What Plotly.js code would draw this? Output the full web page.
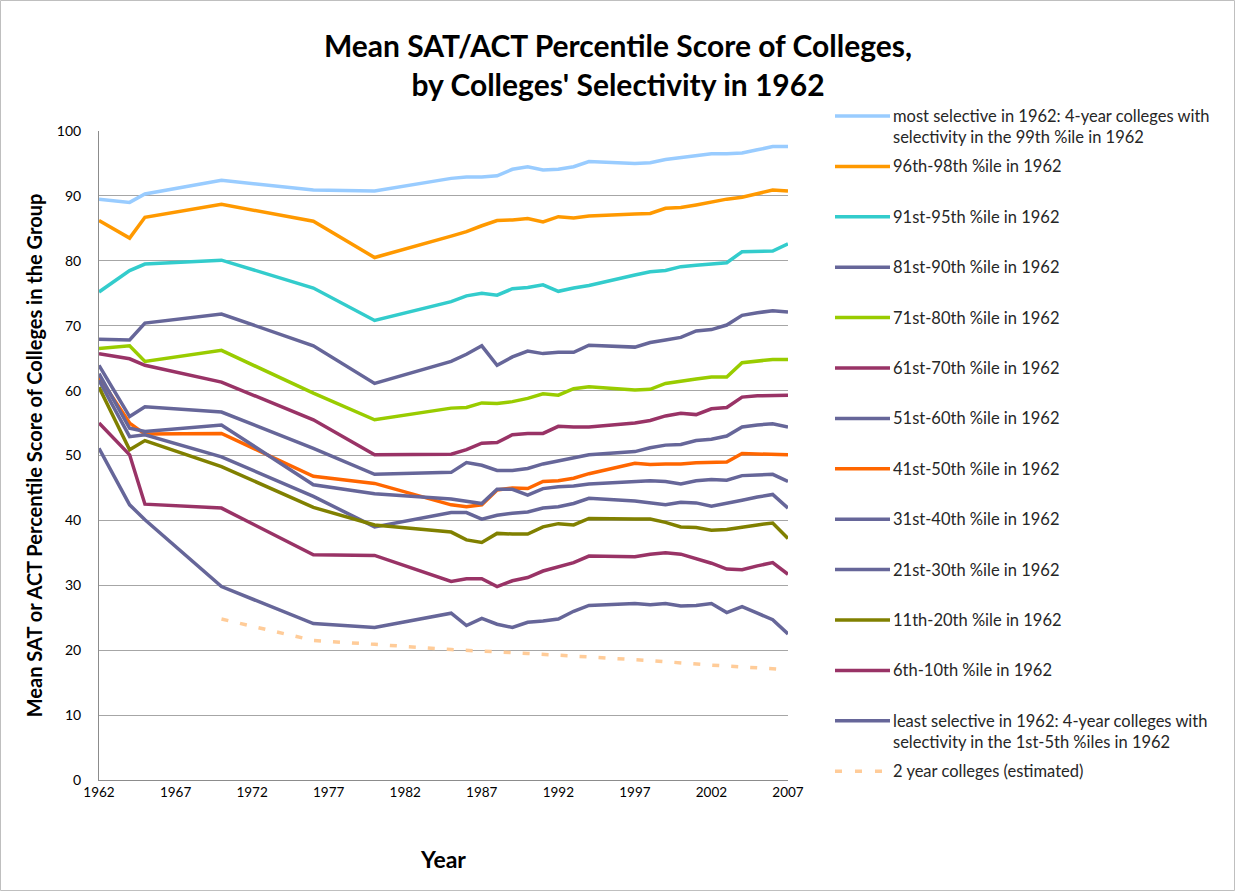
<!DOCTYPE html>
<html>
<head>
<meta charset="utf-8">
<script src="https://cdn.plot.ly/plotly-3.0.1.min.js"></script>
<style>
  html, body { margin: 0; padding: 0; background: #fff; }
  #chart { width: 1236px; height: 892px; }
</style>
</head>
<body>
<div id="chart"></div>
<script>
// ---- Data ----
const years = [1962,1964,1965,1970,1976,1980,1985,1986,1987,1988,1989,1990,1991,1992,1993,1994,1997,1998,1999,2000,2001,2002,2003,2004,2005,2006,2007];

const mostSelective = [89.5,89.0,90.3,92.4,90.9,90.75,92.7,92.9,92.9,93.1,94.1,94.5,94.0,94.1,94.5,95.3,95.0,95.1,95.6,95.9,96.2,96.5,96.5,96.6,97.1,97.6,97.6];
const pct96_98 = [86.2,83.5,86.7,88.7,86.1,80.5,83.8,84.5,85.4,86.2,86.3,86.5,86.0,86.8,86.6,86.9,87.2,87.3,88.1,88.2,88.6,89.1,89.5,89.8,90.3,90.9,90.75];
const pct91_95 = [75.2,78.5,79.5,80.1,75.8,70.8,73.7,74.6,75.0,74.7,75.7,75.9,76.3,75.3,75.8,76.2,77.8,78.3,78.5,79.1,79.3,79.5,79.7,81.4,81.5,81.5,82.6];
const pct81_90 = [67.9,67.8,70.4,71.8,66.9,61.1,64.5,65.6,66.9,63.9,65.2,66.1,65.7,65.9,65.9,67.0,66.7,67.4,67.8,68.2,69.2,69.4,70.1,71.6,72.0,72.3,72.1];
const pct71_80 = [66.5,66.9,64.5,66.2,59.6,55.5,57.3,57.4,58.1,58.0,58.3,58.8,59.5,59.3,60.3,60.6,60.1,60.2,61.1,61.5,61.8,62.1,62.1,64.3,64.6,64.8,64.8];
const pct61_70 = [65.7,64.9,63.9,61.3,55.5,50.1,50.2,50.9,51.9,52.0,53.2,53.4,53.4,54.5,54.4,54.4,55.0,55.4,56.1,56.5,56.3,57.2,57.4,59.0,59.2,59.3,59.3];
const pct51_60 = [63.9,56.0,57.5,56.7,51.1,47.1,47.4,48.9,48.5,47.7,47.7,48.0,48.7,49.2,49.6,50.1,50.6,51.2,51.6,51.7,52.3,52.5,53.0,54.4,54.7,54.9,54.4];
const pct41_50 = [62.1,55.0,53.3,53.4,46.8,45.7,42.4,42.1,42.4,44.7,45.0,44.9,46.0,46.1,46.5,47.2,48.8,48.6,48.7,48.7,48.9,49.0,49.0,50.3,50.2,50.2,50.1];
const pct31_40 = [62.6,54.2,53.7,54.7,45.5,44.1,43.3,43.0,42.6,44.8,44.8,43.9,44.9,45.2,45.3,45.6,45.9,46.1,46.0,45.6,46.1,46.3,46.2,46.9,47.0,47.1,46.0];
const pct21_30 = [61.6,52.9,53.2,49.8,43.7,39.0,41.2,41.2,40.2,40.8,41.1,41.3,41.9,42.1,42.6,43.4,43.0,42.7,42.4,42.8,42.7,42.2,42.6,43.1,43.6,44.0,41.9];
const pct11_20 = [60.5,50.9,52.3,48.3,42.0,39.3,38.2,37.0,36.6,38.0,37.9,37.9,39.0,39.5,39.3,40.3,40.2,40.2,39.7,39.0,38.9,38.5,38.6,39.0,39.3,39.6,37.2];
const pct6_10 = [55.0,50.1,42.5,41.9,34.7,34.6,30.6,31.0,31.0,29.8,30.7,31.2,32.2,32.9,33.5,34.5,34.4,34.8,35.0,34.8,34.1,33.4,32.5,32.4,33.0,33.5,31.7];
const leastSelective = [51.1,42.4,40.1,29.8,24.1,23.5,25.7,23.8,24.9,24.0,23.5,24.3,24.5,24.8,26.0,26.9,27.2,27.0,27.2,26.8,26.9,27.2,25.8,26.7,25.7,24.7,22.5];

const twoYearYears = [1970,1976,1980,1985,1990,1994,1998,2002,2007];
const twoYear = [24.8,21.5,20.9,20.1,19.5,19.0,18.4,17.7,17.0];

const seriesNames = [
  "most selective in 1962: 4-year colleges with<br>selectivity in the 99th %ile in 1962",
  "96th-98th %ile in 1962",
  "91st-95th %ile in 1962",
  "81st-90th %ile in 1962",
  "71st-80th %ile in 1962",
  "61st-70th %ile in 1962",
  "51st-60th %ile in 1962",
  "41st-50th %ile in 1962",
  "31st-40th %ile in 1962",
  "21st-30th %ile in 1962",
  "11th-20th %ile in 1962",
  "6th-10th %ile in 1962",
  "least selective in 1962: 4-year colleges with<br>selectivity in the 1st-5th %iles in 1962",
  "2 year colleges (estimated)"
];
const seriesValues = [mostSelective,pct96_98,pct91_95,pct81_90,pct71_80,pct61_70,pct51_60,pct41_50,pct31_40,pct21_30,pct11_20,pct6_10,leastSelective,twoYear];
const seriesX = [years,years,years,years,years,years,years,years,years,years,years,years,years,twoYearYears];
const seriesColors = ["#99CCFF","#FF9900","#33CCCC","#666699","#99CC00","#993366","#666699","#FF6600","#666699","#666699","#808000","#993366","#666699","#FFCC99"];
const seriesDash = ["solid","solid","solid","solid","solid","solid","solid","solid","solid","solid","solid","solid","solid","7px,12px"];

const xTicks = [1962,1967,1972,1977,1982,1987,1992,1997,2002,2007];
const yTicks = [0,10,20,30,40,50,60,70,80,90,100];

// ---- Layout geometry ----
const W = 1236, H = 892;
const plotL = 99, plotR = 788, plotT = 131, plotB = 780;
const pw = plotR - plotL, ph = plotB - plotT;
const px2x = p => (p - plotL) / pw;
const py2y = p => (plotB - p) / ph;

const FONT = "Lato, 'Open Sans', sans-serif";

const traces = seriesNames.map((n, i) => ({
  type: "scatter",
  mode: "lines",
  x: seriesX[i],
  y: seriesValues[i],
  name: n.replace("<br>", " "),
  line: { color: seriesColors[i], width: 3.5, dash: seriesDash[i] },
  showlegend: false,
  hoverinfo: "x+y+name"
}));

// ---- Manual legend (Excel-style equally spaced entries) ----
const legendTop = 116, legendStep = 50.4, legendFont = 16.5;
const shapes = [];
const annotations = [];
seriesNames.forEach((n, i) => {
  const py = legendTop + i * legendStep;
  shapes.push({
    type: "line", xref: "paper", yref: "paper",
    x0: px2x(835), x1: px2x(890), y0: py2y(py), y1: py2y(py),
    line: { color: seriesColors[i], width: 3.5, dash: seriesDash[i] === "solid" ? "solid" : "7px,13px" }
  });
  annotations.push({
    xref: "paper", yref: "paper",
    x: px2x(891), y: py2y(py - 12),
    xanchor: "left", yanchor: "top", align: "left",
    text: n, showarrow: false,
    font: { family: FONT, size: legendFont, color: "#262626" }
  });
});
// chart-area border
shapes.push({
  type: "rect", xref: "paper", yref: "paper", layer: "below",
  x0: px2x(0.5), x1: px2x(W - 1.5), y0: py2y(H - 1.5), y1: py2y(0.5),
  line: { color: "#BFBFBF", width: 1 }
});

const layout = {
  width: W, height: H,
  paper_bgcolor: "#fff", plot_bgcolor: "#fff",
  margin: { l: plotL, r: W - plotR, t: plotT, b: H - plotB, pad: 0 },
  font: { family: FONT, size: 14, color: "#000" },
  title: {
    text: "<b>Mean SAT/ACT Percentile Score of Colleges,<br>by Colleges' Selectivity in 1962</b>",
    font: { family: FONT, size: 30, color: "#000" },
    x: 0.5, xref: "container", xanchor: "center",
    y: 1 - 57 / H, yref: "container", yanchor: "middle"
  },
  xaxis: {
    type: "linear", range: [1962, 2007],
    tickmode: "array", tickvals: xTicks, ticktext: xTicks.map(String),
    showgrid: false, zeroline: false,
    showline: true, linecolor: "#8C8C8C", linewidth: 1,
    ticks: "", tickfont: { family: FONT, size: 13.5, color: "#000" },
    title: { text: "<b>Year</b>", font: { family: FONT, size: 23, color: "#000" }, standoff: 52 }
  },
  yaxis: {
    range: [0, 100],
    tickmode: "array", tickvals: yTicks, ticktext: yTicks.map(String),
    showgrid: true, gridcolor: "#A6A6A6", gridwidth: 1,
    zeroline: false, showline: true, linecolor: "#8C8C8C", linewidth: 1,
    ticks: "", ticklabelstandoff: 14, tickfont: { family: FONT, size: 14, color: "#000" },
    title: { text: "<b>Mean SAT or ACT Percentile Score of Colleges in the Group</b>", font: { family: FONT, size: 20, color: "#000" }, standoff: 8 }
  },
  shapes: shapes,
  annotations: annotations,
  showlegend: false
};

Plotly.newPlot("chart", traces, layout, { staticPlot: true, displayModeBar: false });
</script>
</body>
</html>
